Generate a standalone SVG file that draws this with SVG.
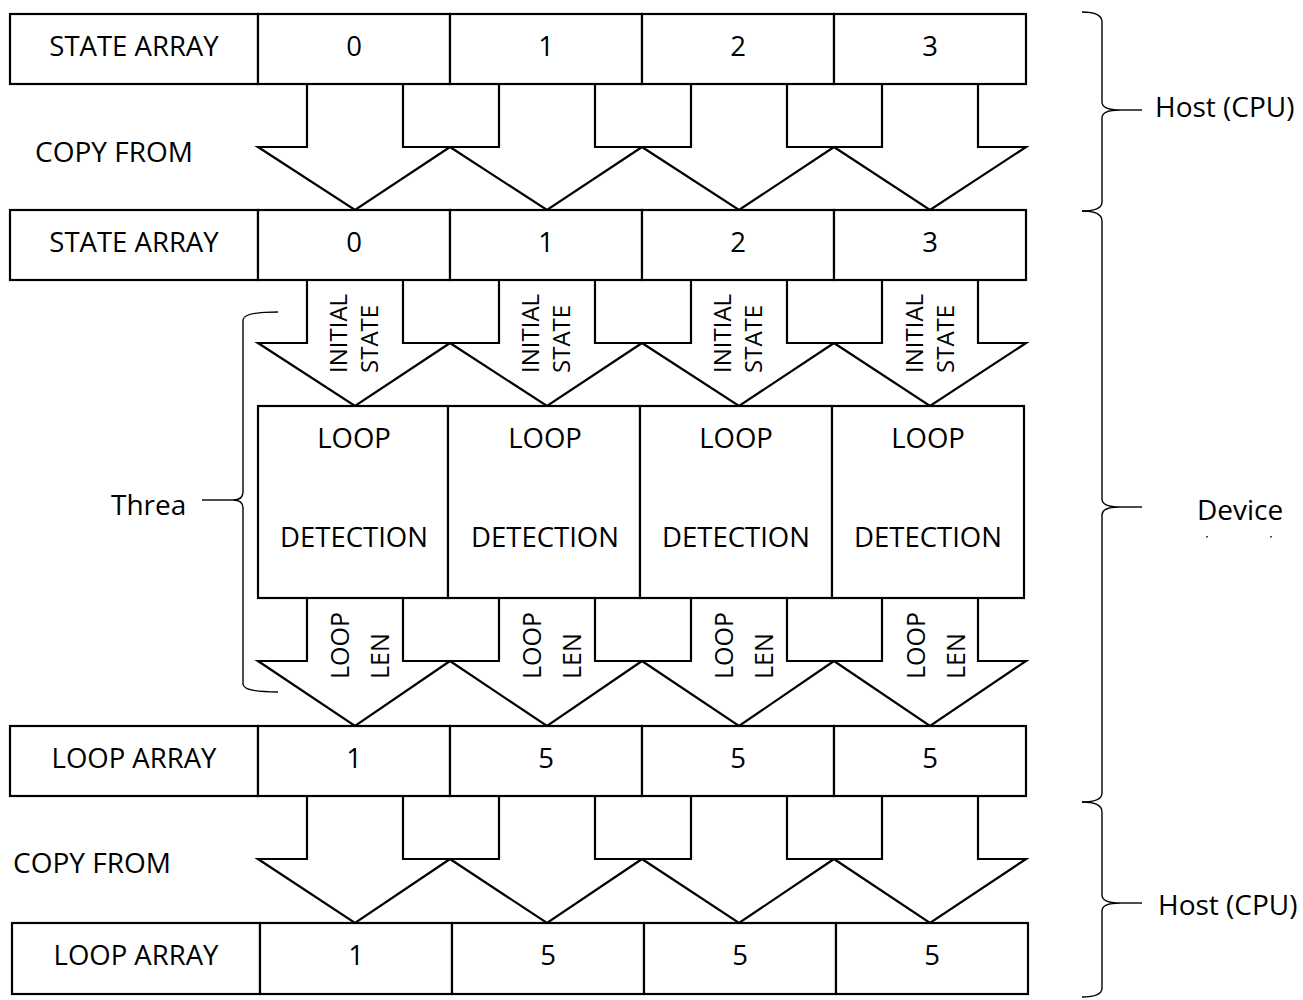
<svg xmlns="http://www.w3.org/2000/svg" width="1303" height="1000" viewBox="0 0 1303 1000">
<style>
.cell{fill:#fff;stroke:#000;stroke-width:2.2}
.arr{fill:#fff;stroke:#000;stroke-width:2.2;stroke-linejoin:miter}
.brace{fill:none;stroke:#000;stroke-width:1.4}
text{font-family:"Open Sans","Liberation Sans",sans-serif;fill:#000}
.t{font-size:27.5px;text-anchor:middle}
.l{font-size:28px;text-anchor:start}
.v{font-size:24px;text-anchor:start}
.v2{font-size:25px;text-anchor:start}
</style>
<rect width="1303" height="1000" fill="#fff"/>

<g id="connectors">
  <path class="arr" d="M307 84 V147 H258 L355 210 L450 147 H403 V84"/>
  <path class="arr" d="M499 84 V147 H450 L547 210 L642 147 H595 V84"/>
  <path class="arr" d="M691 84 V147 H642 L739 210 L834 147 H787 V84"/>
  <path class="arr" d="M882 84 V147 H834 L930 210 L1026 147 H978 V84"/>
  <path class="arr" d="M307 280 V343 H258 L355 406 L450 343 H403 V280"/>
  <path class="arr" d="M499 280 V343 H450 L547 406 L642 343 H595 V280"/>
  <path class="arr" d="M691 280 V343 H642 L739 406 L834 343 H787 V280"/>
  <path class="arr" d="M882 280 V343 H834 L930 406 L1026 343 H978 V280"/>
  <path class="arr" d="M307 598 V661 H258 L355 726 L450 661 H403 V598"/>
  <path class="arr" d="M499 598 V661 H450 L547 726 L642 661 H595 V598"/>
  <path class="arr" d="M691 598 V661 H642 L739 726 L834 661 H787 V598"/>
  <path class="arr" d="M882 598 V661 H834 L930 726 L1026 661 H978 V598"/>
  <path class="arr" d="M307 797 V859 H258 L355 923 L450 859 H403 V797"/>
  <path class="arr" d="M499 797 V859 H450 L547 923 L642 859 H595 V797"/>
  <path class="arr" d="M691 797 V859 H642 L739 923 L834 859 H787 V797"/>
  <path class="arr" d="M882 797 V859 H834 L930 923 L1026 859 H978 V797"/>
  <g class="v">
    <text transform="translate(347,373) rotate(-90)">INITIAL</text>
    <text transform="translate(378,373) rotate(-90)">STATE</text>
    <text transform="translate(539,373) rotate(-90)">INITIAL</text>
    <text transform="translate(570,373) rotate(-90)">STATE</text>
    <text transform="translate(731,373) rotate(-90)">INITIAL</text>
    <text transform="translate(762,373) rotate(-90)">STATE</text>
    <text transform="translate(923,373) rotate(-90)">INITIAL</text>
    <text transform="translate(954,373) rotate(-90)">STATE</text>
  </g>
  <g class="v2">
    <text transform="translate(349,679) rotate(-90)">LOOP</text>
    <text transform="translate(389,679) rotate(-90)">LEN</text>
    <text transform="translate(541,679) rotate(-90)">LOOP</text>
    <text transform="translate(581,679) rotate(-90)">LEN</text>
    <text transform="translate(733,679) rotate(-90)">LOOP</text>
    <text transform="translate(773,679) rotate(-90)">LEN</text>
    <text transform="translate(925,679) rotate(-90)">LOOP</text>
    <text transform="translate(965,679) rotate(-90)">LEN</text>
  </g>
</g>

<g id="host-state-array">
  <rect class="cell" x="10" y="14" width="248" height="70"/>
  <rect class="cell" x="258" y="14" width="192" height="70"/>
  <rect class="cell" x="450" y="14" width="192" height="70"/>
  <rect class="cell" x="642" y="14" width="192" height="70"/>
  <rect class="cell" x="834" y="14" width="192" height="70"/>
  <text class="t" x="134" y="56">STATE ARRAY</text>
  <text class="t" x="354" y="56">0</text>
  <text class="t" x="546" y="56">1</text>
  <text class="t" x="738" y="56">2</text>
  <text class="t" x="930" y="56">3</text>
</g>

<g id="copy-from-1"><text class="l" x="35" y="162">COPY FROM</text></g>

<g id="device-state-array">
  <rect class="cell" x="10" y="210" width="248" height="70"/>
  <rect class="cell" x="258" y="210" width="192" height="70"/>
  <rect class="cell" x="450" y="210" width="192" height="70"/>
  <rect class="cell" x="642" y="210" width="192" height="70"/>
  <rect class="cell" x="834" y="210" width="192" height="70"/>
  <text class="t" x="134" y="252">STATE ARRAY</text>
  <text class="t" x="354" y="252">0</text>
  <text class="t" x="546" y="252">1</text>
  <text class="t" x="738" y="252">2</text>
  <text class="t" x="930" y="252">3</text>
</g>

<g id="loop-detection">
  <rect class="cell" x="258" y="406" width="190" height="192"/>
  <rect class="cell" x="448" y="406" width="192" height="192"/>
  <rect class="cell" x="640" y="406" width="192" height="192"/>
  <rect class="cell" x="832" y="406" width="192" height="192"/>
  <text class="t" x="354" y="448">LOOP</text>
  <text class="t" x="354" y="547">DETECTION</text>
  <text class="t" x="545" y="448">LOOP</text>
  <text class="t" x="545" y="547">DETECTION</text>
  <text class="t" x="736" y="448">LOOP</text>
  <text class="t" x="736" y="547">DETECTION</text>
  <text class="t" x="928" y="448">LOOP</text>
  <text class="t" x="928" y="547">DETECTION</text>
</g>

<g id="device-loop-array">
  <rect class="cell" x="10" y="726" width="248" height="70"/>
  <rect class="cell" x="258" y="726" width="192" height="70"/>
  <rect class="cell" x="450" y="726" width="192" height="70"/>
  <rect class="cell" x="642" y="726" width="192" height="70"/>
  <rect class="cell" x="834" y="726" width="192" height="70"/>
  <text class="t" x="134" y="768">LOOP ARRAY</text>
  <text class="t" x="354" y="768">1</text>
  <text class="t" x="546" y="768">5</text>
  <text class="t" x="738" y="768">5</text>
  <text class="t" x="930" y="768">5</text>
</g>

<g id="copy-from-2"><text class="l" x="13" y="873">COPY FROM</text></g>

<g id="host-loop-array">
  <rect class="cell" x="12" y="923" width="248" height="71"/>
  <rect class="cell" x="260" y="923" width="192" height="71"/>
  <rect class="cell" x="452" y="923" width="192" height="71"/>
  <rect class="cell" x="644" y="923" width="192" height="71"/>
  <rect class="cell" x="836" y="923" width="192" height="71"/>
  <text class="t" x="136" y="965">LOOP ARRAY</text>
  <text class="t" x="356" y="965">1</text>
  <text class="t" x="548" y="965">5</text>
  <text class="t" x="740" y="965">5</text>
  <text class="t" x="932" y="965">5</text>
</g>

<g id="thread-brace">
  <path class="brace" d="M278 312 Q243 312 243 320 L243 492 Q243 500 233 500 Q243 500 243 508 L243 684 Q243 692 278 692"/>
  <line class="brace" x1="202" y1="500" x2="233" y2="500"/>
  <text class="l" x="111" y="515">Threa</text>
</g>

<g id="host-brace-1">
  <path class="brace" d="M1082 12 Q1102 12 1102 22 L1102 102 Q1102 110 1120 110 Q1102 110 1102 118 L1102 202 Q1102 211 1082 211"/>
  <line class="brace" x1="1120" y1="110" x2="1142" y2="110"/>
  <text class="l" x="1155" y="117">Host (CPU)</text>
</g>

<g id="device-brace">
  <path class="brace" d="M1082 211 Q1102 211 1102 221 L1102 499 Q1102 507 1120 507 Q1102 507 1102 515 L1102 793 Q1102 802 1082 802"/>
  <line class="brace" x1="1120" y1="507" x2="1142" y2="507"/>
  <text class="l" x="1197" y="520">Device</text>
  <rect x="1206" y="536" width="2" height="1.5" fill="#444"/>
  <rect x="1270" y="536" width="2" height="1.5" fill="#444"/>
</g>

<g id="host-brace-2">
  <path class="brace" d="M1082 802 Q1102 802 1102 812 L1102 895 Q1102 903 1120 903 Q1102 903 1102 911 L1102 988 Q1102 997 1082 997"/>
  <line class="brace" x1="1120" y1="903" x2="1142" y2="903"/>
  <text class="l" x="1158" y="915">Host (CPU)</text>
</g>
</svg>
